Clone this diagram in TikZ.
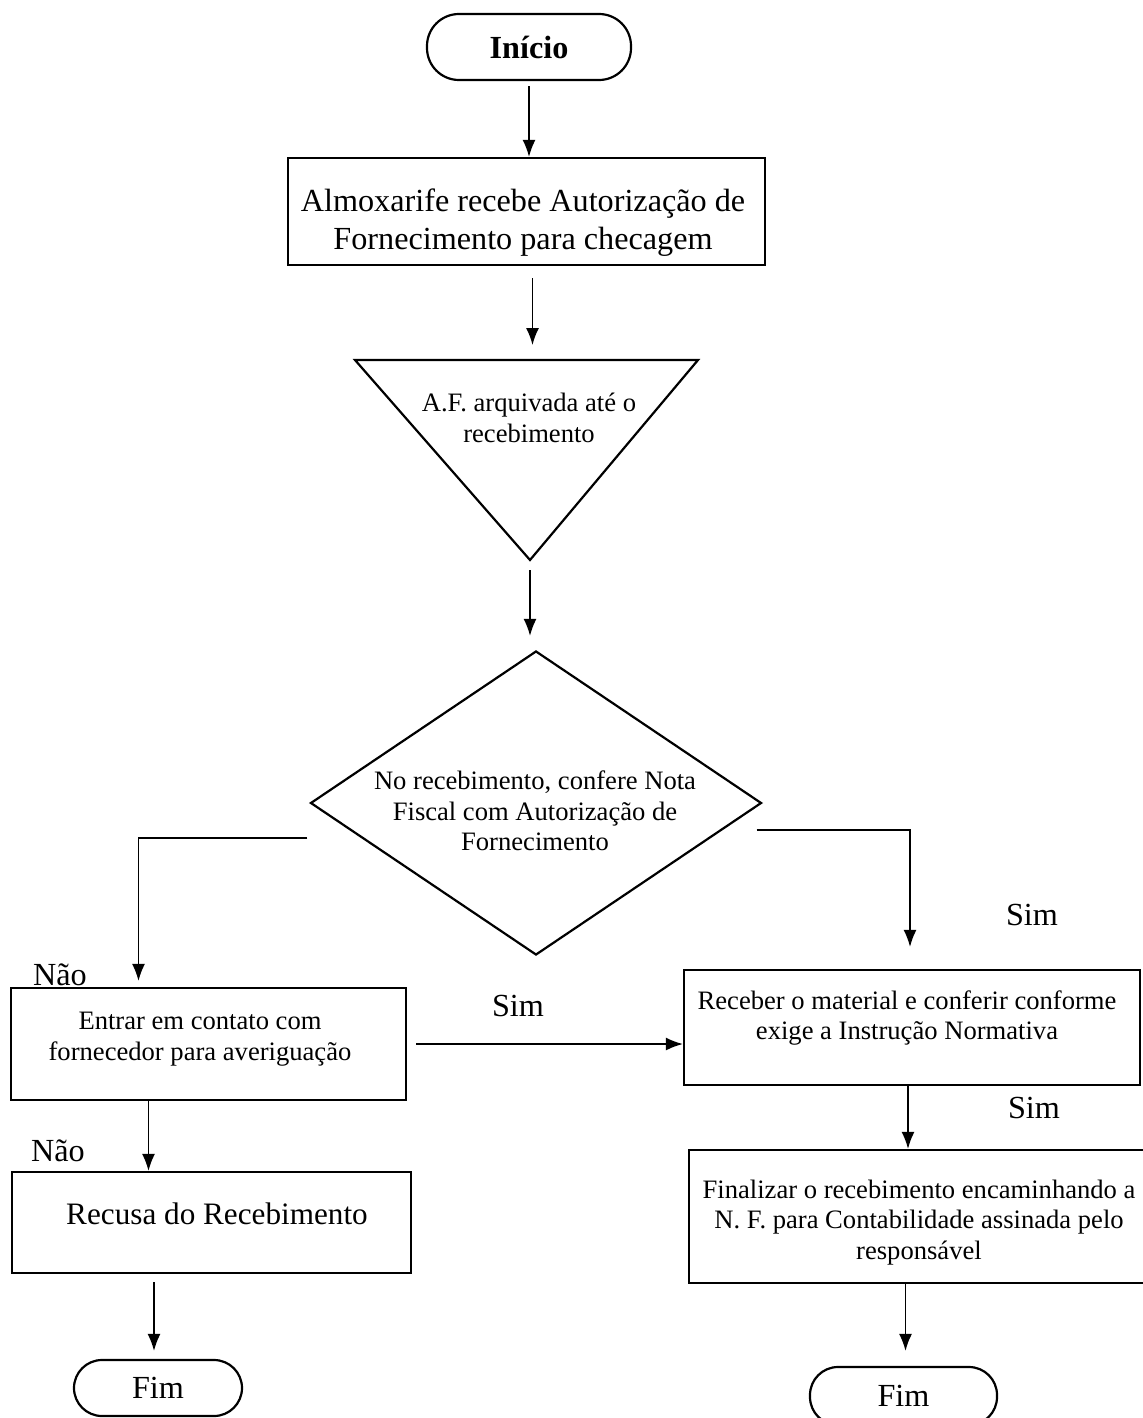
\documentclass[tikz,border=0pt]{standalone}
\usepackage{fontspec}
\setmainfont{Liberation Serif}
\usetikzlibrary{arrows.meta, shapes.geometric}

\newcommand{\grande}{\fontsize{16.1}{19}\selectfont}
\newcommand{\pequena}{\fontsize{13.3}{15.2}\selectfont}

\begin{document}
\begin{tikzpicture}[x=0.5pt, y=-0.5pt,
  caixa/.style={draw, line width=1.1pt, inner sep=0pt},
  texto/.style={align=center, inner sep=0pt},
  terminal/.style={draw, line width=1.1pt, rounded corners=14pt, inner sep=0pt, font=\grande},
  decisao/.style={draw, diamond, line width=1.1pt, inner sep=0pt, minimum width=225.5pt, minimum height=152pt},
  seta/.style={-{Latex[length=8.5pt,width=6.5pt]}, line width=0.8pt},
  rotulo/.style={font=\grande}]

\useasboundingbox (0,0) rectangle (1142,1418);

% inicio e primeira etapa
\node[terminal, minimum width=102pt, minimum height=33pt, rounded corners=16pt, font=\grande\bfseries] (inicio) at (529,47) {Início};
\node[caixa, minimum width=238.5pt, minimum height=53.5pt] (almox) at (526.5,211.5) {};
\node[texto, font=\grande] (almox-txt) at (523,222.5) {Almoxarife recebe Autorização de\\Fornecimento para checagem};

% arquivo (triangulo)
\coordinate (tri-e) at (355,360);
\coordinate (tri-d) at (698,360);
\coordinate (tri-v) at (530,560);
\draw[line width=1.1pt] (tri-e) -- (tri-d) -- (tri-v) -- cycle;
\node[texto, font=\pequena] (arquivo) at (529,418) {A.F. arquivada até o\\recebimento};

% decisao
\node[decisao] (confere) at (536,803) {};
\node[texto, font=\pequena] (confere-txt) at (535,811) {No recebimento, confere Nota\\Fiscal com Autorização de\\Fornecimento};

% caixas de baixo
\node[caixa, minimum width=197.5pt, minimum height=56pt] (contato) at (208.5,1044) {};
\node[texto, font=\pequena] (contato-txt) at (200,1039) {Entrar em contato com\\fornecedor para averiguação};
\node[caixa, minimum width=228pt, minimum height=57.5pt] (receber) at (912,1027.5) {};
\node[texto, font=\pequena] (receber-txt) at (907,1018) {Receber o material e conferir conforme\\exige a Instrução Normativa};
\node[caixa, minimum width=199.5pt, minimum height=50.5pt] (recusa) at (211.5,1222.5) {};
\node[texto, font=\fontsize{15.6}{18}\selectfont] (recusa-txt) at (217,1213.5) {Recusa do Recebimento};
\node[caixa, minimum width=228pt, minimum height=66.5pt] (finalizar) at (917,1216.5) {};
\node[texto, font=\pequena] (finalizar-txt) at (919,1222.5) {Finalizar o recebimento encaminhando a\\N. F. para Contabilidade assinada pelo\\responsável};
\node[terminal, minimum width=84pt, minimum height=28pt] (fim-e) at (158,1388) {Fim};
\node[terminal, minimum width=93.5pt, minimum height=29pt] (fim-d) at (903.5,1396) {Fim};

% setas
\draw[seta, shorten <=2.5pt] (inicio.south) -- (inicio.south |- almox.north);
\draw[seta, shorten <=6pt, shorten >=7.5pt] ([xshift=3pt]almox.south) -- ([xshift=3pt]almox.south |- tri-e);
\draw[seta, shorten <=5pt, shorten >=7pt] (tri-v) -- (tri-v |- confere.north);
\draw[seta, shorten >=3pt] ([shift={(-2,35)}]confere.west) -| ([xshift=-35pt]contato.north);
\draw[seta, shorten >=11pt] ([shift={(-6,27)}]confere.east) -| ([xshift=-1pt]receber.north);
\draw[seta, shorten <=4.5pt] (contato.east) -- (contato.east -| receber.west);
\draw[seta] ([xshift=-30pt]contato.south) -- ([xshift=-30pt]contato.south |- recusa.north);
\draw[seta] ([xshift=-2pt]receber.south) -- ([xshift=-2pt]receber.south |- finalizar.north);
\draw[seta, shorten <=4pt, shorten >=4pt] ([xshift=-2pt]fim-e.north |- recusa.south) -- ([xshift=-2pt]fim-e.north);
\draw[seta, shorten >=7.5pt] ([xshift=1pt]fim-d.north |- finalizar.south) -- ([xshift=1pt]fim-d.north);

% rotulos
\node[rotulo] (nao-1) at (60,975) {Não};
\node[rotulo] (nao-2) at (58,1151) {Não};
\node[rotulo] (sim-1) at (518,1006) {Sim};
\node[rotulo] (sim-2) at (1032,915) {Sim};
\node[rotulo] (sim-3) at (1034,1108) {Sim};
\end{tikzpicture}
\end{document}
